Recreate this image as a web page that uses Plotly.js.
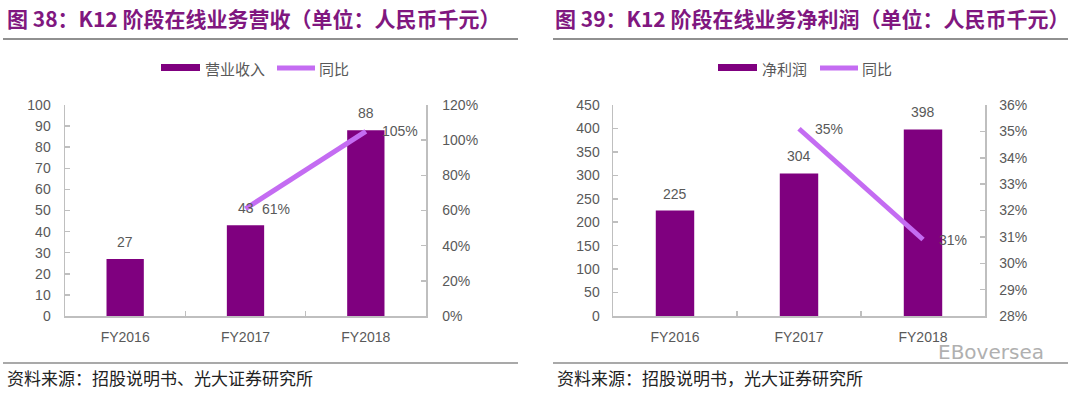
<!DOCTYPE html>
<html>
<head>
<meta charset="utf-8">
<script src="https://cdn.plot.ly/plotly-3.0.1.min.js"></script>
<style>
html,body{margin:0;padding:0;background:#fff;}
#chart{width:1080px;height:393px;}
</style>
</head>
<body>
<div id="chart"></div>
<script>
// ---- data ----
const years = ["FY2016", "FY2017", "FY2018"];
const revenue = [27, 43, 88];
const revenueYoY = [null, 0.61, 1.05];
const profit = [225, 304, 398];
const profitYoY = [null, 0.351, 0.309];
const title1 = "图 38：K12 阶段在线业务营收（单位：人民币千元）";
const title2 = "图 39：K12 阶段在线业务净利润（单位：人民币千元）";
const legend1 = ["营业收入", "同比"];
const legend2 = ["净利润", "同比"];
const source1 = "资料来源：招股说明书、光大证券研究所";
const source2 = "资料来源：招股说明书，光大证券研究所";

// ---- styling ----
const W = 1080, H = 393;
const px = x => x / W;
const py = y => (H - y) / H;
const BAR = "#7F007F";
const LINE = "#C46CF2";
const TXT = "#595959";
const AX = "#BFBFBF";
const FONT = "Liberation Sans, Arial, sans-serif";
const CJK = "Noto Sans CJK SC, sans-serif";

const traces = [
  {type: "bar", x: years, y: revenue, xaxis: "x", yaxis: "y", marker: {color: BAR}, showlegend: false, hoverinfo: "skip"},
  {type: "scatter", mode: "lines", x: years, y: revenueYoY, xaxis: "x", yaxis: "y2", line: {color: LINE, width: 5}, showlegend: false, hoverinfo: "skip"},
  {type: "bar", x: years, y: profit, xaxis: "x2", yaxis: "y3", marker: {color: BAR}, showlegend: false, hoverinfo: "skip"},
  {type: "scatter", mode: "lines", x: years, y: profitYoY, xaxis: "x2", yaxis: "y4", line: {color: LINE, width: 5}, showlegend: false, hoverinfo: "skip"}
];

const tickFont = {family: FONT, size: 14, color: TXT};
const baseY = {showgrid: false, zeroline: false, showline: true, linecolor: AX, linewidth: 1.5,
  ticks: "inside", ticklen: 5, tickcolor: AX, tickwidth: 1.5, tickfont: tickFont, fixedrange: true};
const baseX = {type: "category", showgrid: false, zeroline: false, showline: true, linecolor: AX, linewidth: 1.5,
  ticks: "inside", tickson: "boundaries", ticklen: 5, tickcolor: AX, tickwidth: 1.5, tickfont: tickFont, fixedrange: true};

const yDom = [py(316), py(105)];

const annotations = [];
// bar value labels
function barLabels(xref, yref, vals) {
  vals.forEach((v, i) => annotations.push({xref, yref, x: years[i], y: v, text: String(v), showarrow: false,
    yshift: 17, font: {family: FONT, size: 14, color: TXT}}));
}
function pctLabels(xref, yref, vals) {
  vals.forEach((v, i) => { if (v !== null) annotations.push({xref, yref, x: years[i], y: v,
    text: Math.round(v * 100) + "%", showarrow: false, xanchor: "left", xshift: 14,
    font: {family: FONT, size: 14, color: TXT}}); });
}
barLabels("x", "y", revenue);
pctLabels("x", "y2", revenueYoY);
barLabels("x2", "y3", profit);
pctLabels("x2", "y4", profitYoY);

// titles
[[title1, 5], [title2, 553]].forEach(([t, x]) => annotations.push({xref: "paper", yref: "paper", x: px(x), y: py(18),
  xanchor: "left", yanchor: "middle", text: "<b>" + t + "</b>", showarrow: false,
  font: {family: CJK, size: 21, color: "#80177F"}}));
// sources
[[source1, 5], [source2, 555]].forEach(([t, x]) => annotations.push({xref: "paper", yref: "paper", x: px(x), y: py(377),
  xanchor: "left", yanchor: "middle", text: t, showarrow: false,
  font: {family: CJK, size: 17, color: "#222"}}));
// watermark
annotations.push({xref: "paper", yref: "paper", x: px(1046), y: py(352), xanchor: "right", yanchor: "middle",
  text: "EBoversea", showarrow: false, font: {family: "DejaVu Sans, sans-serif", size: 20, color: "#B0B0B0"}});

// custom legends
const shapes = [];
function legendBar(name, x0) {
  shapes.push({type: "rect", xref: "paper", yref: "paper", x0: px(x0), x1: px(x0 + 39), y0: py(71), y1: py(64),
    fillcolor: BAR, line: {width: 0}});
  annotations.push({xref: "paper", yref: "paper", x: px(x0 + 42), y: py(68), xanchor: "left", yanchor: "middle",
    text: name, showarrow: false, font: {family: CJK, size: 15, color: TXT}});
}
function legendLine(name, x0) {
  shapes.push({type: "line", xref: "paper", yref: "paper", x0: px(x0), x1: px(x0 + 38), y0: py(68), y1: py(68),
    line: {color: LINE, width: 5}});
  annotations.push({xref: "paper", yref: "paper", x: px(x0 + 40), y: py(68), xanchor: "left", yanchor: "middle",
    text: name, showarrow: false, font: {family: CJK, size: 15, color: TXT}});
}
legendBar(legend1[0], 161); legendLine(legend1[1], 277);
legendBar(legend2[0], 718); legendLine(legend2[1], 820);

// rules
[[3, 518], [553, 1068]].forEach(([a, b]) => {
  shapes.push({type: "line", xref: "paper", yref: "paper", x0: px(a), x1: px(b), y0: py(39), y1: py(39), line: {color: "#222", width: 1.2}});
  shapes.push({type: "line", xref: "paper", yref: "paper", x0: px(a), x1: px(b), y0: py(363), y1: py(363), line: {color: "#555", width: 1.2}});
});

const layout = {
  width: W, height: H, margin: {l: 0, r: 0, t: 0, b: 0},
  paper_bgcolor: "#fff", plot_bgcolor: "#fff", showlegend: false, bargap: 0.69,
  font: {family: FONT},
  xaxis: Object.assign({}, baseX, {domain: [px(65), px(426)], anchor: "y", ticklabelstandoff: 8}),
  yaxis: Object.assign({}, baseY, {domain: yDom, anchor: "x", range: [0, 100], dtick: 10, ticklabelstandoff: 10}),
  yaxis2: Object.assign({}, baseY, {overlaying: "y", side: "right", anchor: "x", range: [0, 1.2], dtick: 0.2, tickformat: ".0%", ticklabelstandoff: 12}),
  xaxis2: Object.assign({}, baseX, {domain: [px(613), px(985)], anchor: "y3", ticklabelstandoff: 8}),
  yaxis3: Object.assign({}, baseY, {domain: yDom, anchor: "x2", range: [0, 450], dtick: 50, ticklabelstandoff: 9}),
  yaxis4: Object.assign({}, baseY, {overlaying: "y3", side: "right", anchor: "x2", range: [0.28, 0.36], dtick: 0.01, tickformat: ".0%", ticklabelstandoff: 10}),
  annotations, shapes
};

Plotly.newPlot("chart", traces, layout, {staticPlot: true, displayModeBar: false});
</script>
</body>
</html>
